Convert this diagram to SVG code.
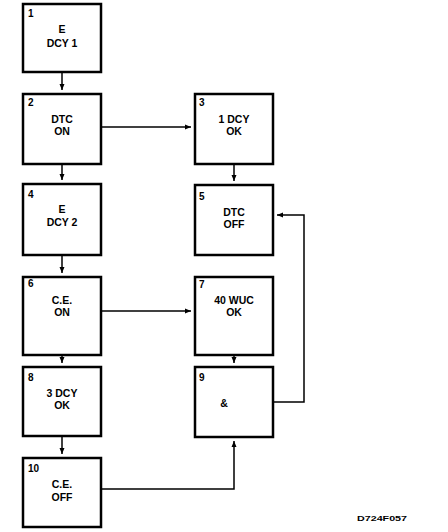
<svg xmlns="http://www.w3.org/2000/svg" width="448" height="532" viewBox="0 0 448 532">
<style>
.box{fill:#fff;stroke:#000;stroke-width:2.5}
.num{font-family:"Liberation Sans",Arial,sans-serif;font-weight:bold;font-size:10px;fill:#000}
.lbl{font-family:"Liberation Sans",Arial,sans-serif;font-weight:bold;font-size:10.5px;fill:#000;text-anchor:middle}
.con{fill:none;stroke:#000;stroke-width:1.5;marker-end:url(#ah)}
</style>
<defs>
<marker id="ah" viewBox="0 0 6 6" refX="6" refY="3" markerWidth="6" markerHeight="6" markerUnits="userSpaceOnUse" orient="auto">
<path d="M0,0.5 L6,3 L0,5.5 Z" fill="#000"/>
</marker>
</defs>
<rect width="448" height="532" fill="#fff"/>
<g id="connectors">
<path class="con" d="M62,72 V90"/>
<path class="con" d="M101,127 H191"/>
<path class="con" d="M62,164 V180"/>
<path class="con" d="M234,164 V181"/>
<path class="con" d="M62,255 V273"/>
<path class="con" d="M101,311 H191"/>
<path class="con" d="M62,355 V363"/>
<path class="con" d="M234,355 V363"/>
<path class="con" d="M62,436 V454"/>
<path class="con" d="M101,489 H234 V441"/>
<path class="con" d="M273,402 H304 V215 H277"/>
</g>
<g id="node1"><rect class="box" x="23" y="4" width="78" height="68"/><text class="num" x="28" y="17">1</text><text class="lbl" x="62" y="33">E</text><text class="lbl" x="62" y="47">DCY 1</text></g>
<g id="node2"><rect class="box" x="23" y="94" width="78" height="70"/><text class="num" x="28" y="106">2</text><text class="lbl" x="62" y="123">DTC</text><text class="lbl" x="62" y="135">ON</text></g>
<g id="node3"><rect class="box" x="195" y="94" width="78" height="70"/><text class="num" x="199" y="106">3</text><text class="lbl" x="234" y="123">1 DCY</text><text class="lbl" x="234" y="135">OK</text></g>
<g id="node4"><rect class="box" x="23" y="184" width="78" height="71"/><text class="num" x="28" y="198">4</text><text class="lbl" x="62" y="213">E</text><text class="lbl" x="62" y="226">DCY 2</text></g>
<g id="node5"><rect class="box" x="195" y="185" width="78" height="70"/><text class="num" x="199" y="200">5</text><text class="lbl" x="234" y="216">DTC</text><text class="lbl" x="234" y="228">OFF</text></g>
<g id="node6"><rect class="box" x="23" y="277" width="78" height="78"/><text class="num" x="28" y="287">6</text><text class="lbl" x="62" y="304">C.E.</text><text class="lbl" x="62" y="316">ON</text></g>
<g id="node7"><rect class="box" x="195" y="277" width="78" height="78"/><text class="num" x="199" y="288">7</text><text class="lbl" x="234" y="304">40 WUC</text><text class="lbl" x="234" y="316">OK</text></g>
<g id="node8"><rect class="box" x="23" y="367" width="78" height="69"/><text class="num" x="28" y="381">8</text><text class="lbl" x="62" y="397">3 DCY</text><text class="lbl" x="62" y="409">OK</text></g>
<g id="node9"><rect class="box" x="195" y="367" width="78" height="70"/><text class="num" x="199" y="381">9</text><text class="lbl" x="224" y="407">&amp;</text></g>
<g id="node10"><rect class="box" x="23" y="458" width="78" height="69"/><text class="num" x="28" y="472">10</text><text class="lbl" x="62" y="488">C.E.</text><text class="lbl" x="62" y="501">OFF</text></g>
<text x="357" y="521" font-family="Liberation Sans,Arial,sans-serif" font-weight="bold" font-size="8" textLength="50" lengthAdjust="spacingAndGlyphs">D724F057</text>
</svg>
